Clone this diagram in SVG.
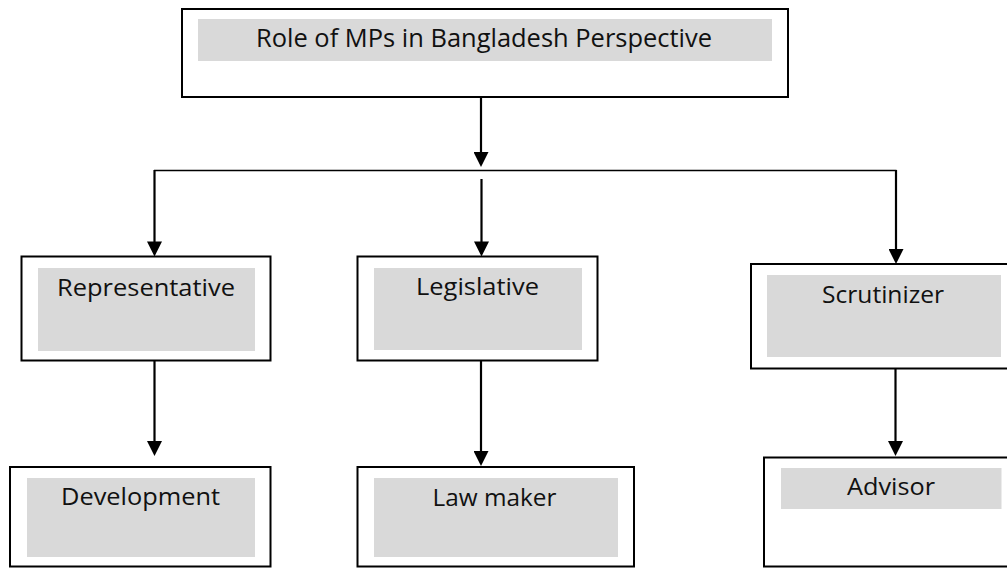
<svg xmlns="http://www.w3.org/2000/svg" width="1007" height="568" viewBox="0 0 1007 568">
<style>
.box{fill:#fff;stroke:#000;stroke-width:2}
.inner{fill:#d9d9d9;stroke:none}
.lbl{font-family:"Open Sans","Liberation Sans",sans-serif;font-size:24px;fill:#111;text-anchor:middle}
.title{font-size:25px}
.arr{fill:none;stroke:#000;stroke-width:2.2;marker-end:url(#ah)}
.hl{fill:none;stroke:#000;stroke-width:1.6}
</style>
<defs>
<marker id="ah" viewBox="0 0 10 10" refX="8" refY="5" markerUnits="userSpaceOnUse" markerWidth="16" markerHeight="15" orient="auto">
<path d="M0,0 L10,5 L0,10 z" fill="#000"/>
</marker>
</defs>
<rect width="1007" height="568" fill="#fff"/>
<g id="connectors">
<line class="arr" x1="481" y1="97" x2="481" y2="164"/>
<line class="hl" x1="154" y1="170.5" x2="896.5" y2="170.5"/>
<line class="arr" x1="154.5" y1="170" x2="154.5" y2="253.5"/>
<line class="arr" x1="481.5" y1="179" x2="481.5" y2="253.5"/>
<line class="arr" x1="896" y1="170" x2="896" y2="261"/>
<line class="arr" x1="154.5" y1="350" x2="154.5" y2="453"/>
<line class="arr" x1="481" y1="359" x2="481" y2="463"/>
<line class="arr" x1="895.5" y1="359" x2="895.5" y2="453"/>
</g>
<g id="title">
<rect class="box" x="182" y="9" width="606" height="88"/>
<rect class="inner" x="198" y="19" width="574" height="42"/>
<text class="lbl title" x="484" y="47" textLength="456" lengthAdjust="spacingAndGlyphs">Role of MPs in Bangladesh Perspective</text>
</g>
<g id="representative">
<rect class="box" x="21.5" y="256.5" width="249" height="104"/>
<rect class="inner" x="38" y="268" width="217" height="83"/>
<text class="lbl" x="146" y="296" textLength="178" lengthAdjust="spacingAndGlyphs">Representative</text>
</g>
<g id="legislative">
<rect class="box" x="357.5" y="256.5" width="240" height="104"/>
<rect class="inner" x="374" y="268" width="208" height="82"/>
<text class="lbl" x="477.5" y="294.5" textLength="123" lengthAdjust="spacingAndGlyphs">Legislative</text>
</g>
<g id="scrutinizer">
<rect class="box" x="751" y="264" width="262" height="104.5"/>
<rect class="inner" x="767" y="275" width="234" height="82"/>
<text class="lbl" x="883" y="303" textLength="122" lengthAdjust="spacingAndGlyphs">Scrutinizer</text>
</g>
<g id="development">
<rect class="box" x="10" y="467" width="260.5" height="99.5"/>
<rect class="inner" x="27" y="478" width="228" height="79"/>
<text class="lbl" x="140.5" y="505" textLength="159" lengthAdjust="spacingAndGlyphs">Development</text>
</g>
<g id="lawmaker">
<rect class="box" x="357.5" y="467" width="276.5" height="99.5"/>
<rect class="inner" x="374" y="478" width="244" height="79"/>
<text class="lbl" x="494.5" y="505.5" textLength="124" lengthAdjust="spacingAndGlyphs">Law maker</text>
</g>
<g id="advisor">
<rect class="box" x="764" y="457.5" width="249" height="109"/>
<rect class="inner" x="781" y="468" width="220.5" height="41"/>
<text class="lbl" x="891" y="495" textLength="88" lengthAdjust="spacingAndGlyphs">Advisor</text>
</g>
</svg>
